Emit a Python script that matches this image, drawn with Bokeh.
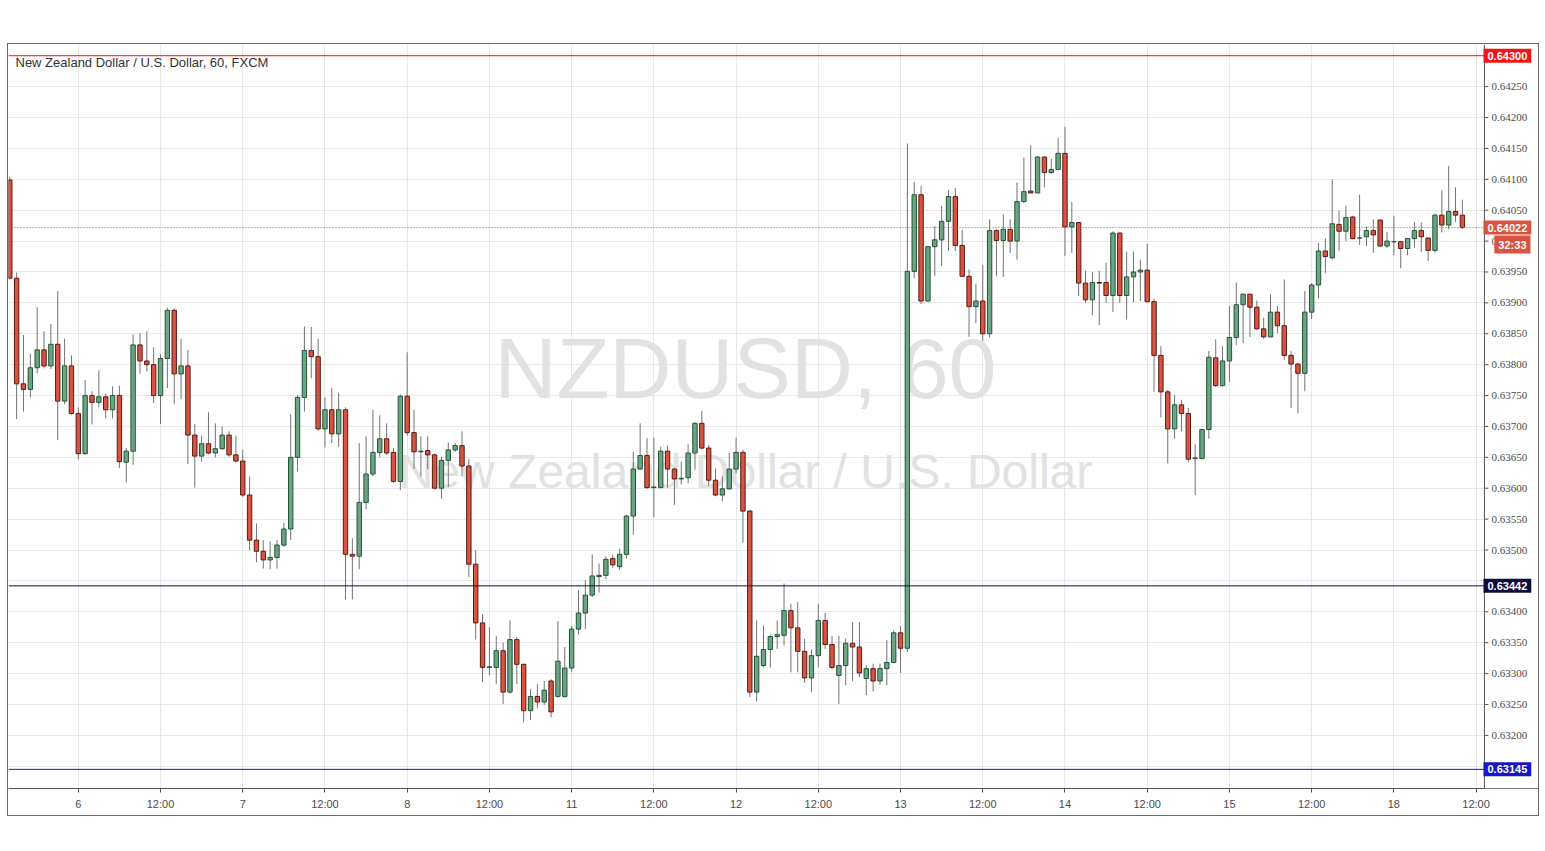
from bokeh.plotting import figure
from bokeh.models import (FixedTicker, Span, Label, LabelSet, Range1d, ColumnDataSource,
                          BoxAnnotation)
from bokeh.embed import file_html
from bokeh.resources import INLINE

# ---------------- data (hourly OHLC, NZDUSD, FXCM) ----------------
opens = [
    0.64099, 0.63940, 0.63769, 0.63760, 0.63795, 0.63824, 0.63798, 0.63833, 0.63741, 0.63798,
    0.63721, 0.63656, 0.63750, 0.63739, 0.63748, 0.63727, 0.63750, 0.63642, 0.63660, 0.63832,
    0.63806, 0.63800, 0.63750, 0.63810, 0.63888, 0.63785, 0.63798, 0.63686, 0.63652, 0.63672,
    0.63657, 0.63664, 0.63686, 0.63654, 0.63644, 0.63589, 0.63516, 0.63498, 0.63484, 0.63488,
    0.63508, 0.63534, 0.63650, 0.63747, 0.63823, 0.63813, 0.63696, 0.63727, 0.63688, 0.63727,
    0.63493, 0.63490, 0.63577, 0.63623, 0.63658, 0.63680, 0.63658, 0.63611, 0.63749, 0.63690,
    0.63659, 0.63661, 0.63654, 0.63600, 0.63645, 0.63662, 0.63669, 0.63636, 0.63477, 0.63382,
    0.63310, 0.63310, 0.63337, 0.63270, 0.63355, 0.63315, 0.63240, 0.63263, 0.63254, 0.63288,
    0.63263, 0.63263, 0.63309, 0.63372, 0.63398, 0.63427, 0.63457, 0.63459, 0.63486, 0.63473,
    0.63493, 0.63555, 0.63631, 0.63653, 0.63601, 0.63601, 0.63660, 0.63631, 0.63615, 0.63617,
    0.63657, 0.63705, 0.63665, 0.63613, 0.63589, 0.63599, 0.63631, 0.63658, 0.63563, 0.63270,
    0.63313, 0.63339, 0.63360, 0.63362, 0.63402, 0.63374, 0.63336, 0.63293, 0.63329, 0.63386,
    0.63347, 0.63297, 0.63313, 0.63349, 0.63343, 0.63292, 0.63308, 0.63288, 0.63308, 0.63318,
    0.63366, 0.63341, 0.63951, 0.64075, 0.63903, 0.63991, 0.64002, 0.64032, 0.64072, 0.63993,
    0.63943, 0.63894, 0.63903, 0.63850, 0.64017, 0.64001, 0.64019, 0.64000, 0.64064, 0.64081,
    0.64078, 0.64136, 0.64111, 0.64116, 0.64142, 0.64023, 0.64030, 0.63932, 0.63905, 0.63933,
    0.63933, 0.63912, 0.64013, 0.63912, 0.63942, 0.63950, 0.63953, 0.63902, 0.63815, 0.63756,
    0.63696, 0.63735, 0.63721, 0.63648, 0.63648, 0.63695, 0.63811, 0.63766, 0.63806, 0.63844,
    0.63897, 0.63914, 0.63893, 0.63858, 0.63845, 0.63885, 0.63863, 0.63815, 0.63801, 0.63786,
    0.63885, 0.63929, 0.63984, 0.63973, 0.64027, 0.64016, 0.64039, 0.64005, 0.64007, 0.64017,
    0.64034, 0.63992, 0.63999, 0.63999, 0.63988, 0.64004, 0.64017, 0.64005, 0.63985, 0.64042,
    0.64026, 0.64048, 0.64042,
]
highs = [
    0.64104, 0.63949, 0.63848, 0.63818, 0.63893, 0.63854, 0.63866, 0.63919, 0.63842, 0.63815,
    0.63731, 0.63775, 0.63757, 0.63791, 0.63753, 0.63765, 0.63766, 0.63665, 0.63849, 0.63851,
    0.63854, 0.63828, 0.63817, 0.63892, 0.63891, 0.63842, 0.63824, 0.63704, 0.63685, 0.63723,
    0.63705, 0.63700, 0.63692, 0.63685, 0.63662, 0.63619, 0.63543, 0.63516, 0.63514, 0.63516,
    0.63544, 0.63720, 0.63751, 0.63862, 0.63861, 0.63842, 0.63747, 0.63762, 0.63754, 0.63731,
    0.63519, 0.63673, 0.63684, 0.63727, 0.63718, 0.63705, 0.63665, 0.63752, 0.63820, 0.63727,
    0.63684, 0.63684, 0.63656, 0.63651, 0.63674, 0.63673, 0.63692, 0.63647, 0.63500, 0.63396,
    0.63375, 0.63361, 0.63350, 0.63386, 0.63359, 0.63316, 0.63275, 0.63283, 0.63288, 0.63291,
    0.63385, 0.63343, 0.63377, 0.63435, 0.63451, 0.63493, 0.63478, 0.63490, 0.63493, 0.63502,
    0.63557, 0.63659, 0.63705, 0.63681, 0.63682, 0.63667, 0.63669, 0.63633, 0.63643, 0.63671,
    0.63707, 0.63725, 0.63670, 0.63632, 0.63619, 0.63657, 0.63682, 0.63662, 0.63565, 0.63386,
    0.63378, 0.63362, 0.63386, 0.63446, 0.63413, 0.63416, 0.63356, 0.63339, 0.63413, 0.63398,
    0.63361, 0.63361, 0.63357, 0.63383, 0.63383, 0.63314, 0.63316, 0.63316, 0.63354, 0.63370,
    0.63377, 0.64158, 0.64096, 0.64089, 0.63992, 0.64024, 0.64057, 0.64083, 0.64086, 0.64018,
    0.63954, 0.63931, 0.63961, 0.64035, 0.64019, 0.64043, 0.64035, 0.64095, 0.64135, 0.64155,
    0.64138, 0.64137, 0.64133, 0.64167, 0.64185, 0.64063, 0.64031, 0.63952, 0.63950, 0.63952,
    0.63965, 0.64016, 0.64014, 0.63983, 0.63983, 0.63970, 0.63996, 0.63907, 0.63830, 0.63759,
    0.63751, 0.63743, 0.63730, 0.63671, 0.63696, 0.63822, 0.63841, 0.63830, 0.63895, 0.63933,
    0.63916, 0.63915, 0.63904, 0.63876, 0.63914, 0.63895, 0.63938, 0.63822, 0.63803, 0.63919,
    0.63932, 0.63997, 0.64005, 0.64100, 0.64049, 0.64057, 0.64041, 0.64075, 0.64024, 0.64035,
    0.64035, 0.64015, 0.64041, 0.64000, 0.64005, 0.64031, 0.64030, 0.64006, 0.64044, 0.64082,
    0.64122, 0.64087, 0.64067,
]
lows = [
    0.63938, 0.63712, 0.63724, 0.63747, 0.63786, 0.63794, 0.63793, 0.63678, 0.63736, 0.63719,
    0.63647, 0.63654, 0.63703, 0.63731, 0.63713, 0.63713, 0.63633, 0.63609, 0.63638, 0.63785,
    0.63789, 0.63738, 0.63704, 0.63762, 0.63736, 0.63744, 0.63639, 0.63601, 0.63643, 0.63655,
    0.63650, 0.63662, 0.63651, 0.63642, 0.63586, 0.63500, 0.63480, 0.63470, 0.63469, 0.63470,
    0.63505, 0.63516, 0.63627, 0.63724, 0.63778, 0.63693, 0.63666, 0.63673, 0.63667, 0.63420,
    0.63420, 0.63469, 0.63566, 0.63619, 0.63650, 0.63654, 0.63609, 0.63597, 0.63685, 0.63631,
    0.63619, 0.63631, 0.63598, 0.63583, 0.63602, 0.63659, 0.63619, 0.63456, 0.63355, 0.63286,
    0.63297, 0.63283, 0.63251, 0.63268, 0.63283, 0.63221, 0.63225, 0.63244, 0.63249, 0.63229,
    0.63261, 0.63261, 0.63302, 0.63363, 0.63372, 0.63424, 0.63431, 0.63453, 0.63471, 0.63468,
    0.63486, 0.63525, 0.63630, 0.63599, 0.63553, 0.63600, 0.63601, 0.63573, 0.63606, 0.63608,
    0.63630, 0.63663, 0.63604, 0.63587, 0.63579, 0.63598, 0.63624, 0.63512, 0.63262, 0.63255,
    0.63310, 0.63310, 0.63340, 0.63346, 0.63302, 0.63302, 0.63285, 0.63270, 0.63310, 0.63340,
    0.63307, 0.63251, 0.63281, 0.63288, 0.63294, 0.63265, 0.63271, 0.63282, 0.63281, 0.63317,
    0.63301, 0.63335, 0.63940, 0.63898, 0.63902, 0.63943, 0.63960, 0.63984, 0.63984, 0.63942,
    0.63845, 0.63867, 0.63838, 0.63844, 0.63943, 0.63942, 0.63981, 0.63970, 0.64062, 0.64077,
    0.64077, 0.64087, 0.64109, 0.64115, 0.63976, 0.63981, 0.63911, 0.63900, 0.63880, 0.63864,
    0.63900, 0.63885, 0.63900, 0.63873, 0.63901, 0.63903, 0.63901, 0.63756, 0.63715, 0.63640,
    0.63680, 0.63692, 0.63642, 0.63589, 0.63647, 0.63680, 0.63764, 0.63765, 0.63772, 0.63831,
    0.63835, 0.63845, 0.63857, 0.63842, 0.63844, 0.63851, 0.63808, 0.63730, 0.63721, 0.63757,
    0.63874, 0.63907, 0.63948, 0.63970, 0.63984, 0.64000, 0.64003, 0.63994, 0.63992, 0.63981,
    0.63991, 0.63989, 0.63977, 0.63956, 0.63977, 0.63989, 0.63982, 0.63968, 0.63981, 0.64014,
    0.64019, 0.64031, 0.64020,
]
closes = [
    0.63940, 0.63769, 0.63760, 0.63795, 0.63824, 0.63798, 0.63833, 0.63741, 0.63798, 0.63721,
    0.63656, 0.63750, 0.63739, 0.63748, 0.63727, 0.63750, 0.63643, 0.63660, 0.63832, 0.63806,
    0.63800, 0.63750, 0.63810, 0.63888, 0.63785, 0.63798, 0.63686, 0.63652, 0.63672, 0.63657,
    0.63664, 0.63686, 0.63654, 0.63644, 0.63589, 0.63516, 0.63498, 0.63484, 0.63488, 0.63508,
    0.63534, 0.63650, 0.63747, 0.63823, 0.63813, 0.63696, 0.63727, 0.63688, 0.63727, 0.63493,
    0.63490, 0.63577, 0.63623, 0.63658, 0.63680, 0.63657, 0.63611, 0.63749, 0.63690, 0.63659,
    0.63660, 0.63654, 0.63600, 0.63645, 0.63662, 0.63669, 0.63636, 0.63477, 0.63382, 0.63310,
    0.63311, 0.63337, 0.63270, 0.63355, 0.63315, 0.63240, 0.63263, 0.63254, 0.63273, 0.63238,
    0.63320, 0.63309, 0.63372, 0.63398, 0.63427, 0.63458, 0.63459, 0.63485, 0.63476, 0.63493,
    0.63555, 0.63631, 0.63653, 0.63601, 0.63602, 0.63660, 0.63631, 0.63615, 0.63616, 0.63657,
    0.63705, 0.63665, 0.63613, 0.63589, 0.63599, 0.63631, 0.63658, 0.63563, 0.63270, 0.63328,
    0.63339, 0.63360, 0.63363, 0.63402, 0.63374, 0.63336, 0.63293, 0.63329, 0.63386, 0.63347,
    0.63310, 0.63313, 0.63349, 0.63343, 0.63301, 0.63308, 0.63288, 0.63308, 0.63318, 0.63366,
    0.63341, 0.63951, 0.64075, 0.63903, 0.63991, 0.64002, 0.64032, 0.64072, 0.63993, 0.63943,
    0.63894, 0.63903, 0.63850, 0.64017, 0.64001, 0.64019, 0.64000, 0.64064, 0.64080, 0.64078,
    0.64136, 0.64111, 0.64116, 0.64142, 0.64023, 0.64030, 0.63932, 0.63905, 0.63933, 0.63932,
    0.63912, 0.64013, 0.63912, 0.63942, 0.63950, 0.63953, 0.63902, 0.63815, 0.63756, 0.63696,
    0.63735, 0.63721, 0.63647, 0.63649, 0.63695, 0.63812, 0.63766, 0.63806, 0.63844, 0.63897,
    0.63914, 0.63893, 0.63858, 0.63845, 0.63885, 0.63863, 0.63815, 0.63801, 0.63786, 0.63885,
    0.63929, 0.63984, 0.63975, 0.64028, 0.64016, 0.64038, 0.64004, 0.64005, 0.64017, 0.64010,
    0.63992, 0.64000, 0.63999, 0.63988, 0.64004, 0.64017, 0.64007, 0.63985, 0.64042, 0.64026,
    0.64048, 0.64042, 0.64022,
]

# x-axis: one bar per hour; labelled bars
tick_bars = [10, 22, 34, 46, 58, 70, 82, 94, 106, 118, 130, 142, 154, 166, 178, 190, 202, 214]
tick_labels = ["6", "12:00", "7", "12:00", "8", "12:00", "11", "12:00", "12", "12:00",
               "13", "12:00", "14", "12:00", "15", "12:00", "18", "12:00"]

# y-axis price ticks (grid) and the ones that carry a visible label
price_ticks = [0.63150, 0.63200, 0.63250, 0.63300, 0.63350, 0.63400, 0.63450, 0.63500,
               0.63550, 0.63600, 0.63650, 0.63700, 0.63750, 0.63800, 0.63850, 0.63900,
               0.63950, 0.64000, 0.64050, 0.64100, 0.64150, 0.64200, 0.64250, 0.64300]
label_ticks = [0.63200, 0.63250, 0.63300, 0.63350, 0.63400, 0.63500, 0.63550, 0.63600,
               0.63650, 0.63700, 0.63750, 0.63800, 0.63850, 0.63900, 0.63950, 0.64000,
               0.64050, 0.64100, 0.64150, 0.64200, 0.64250]
label_texts = ["0.63200", "0.63250", "0.63300", "0.63350", "0.63400", "0.63500", "0.63550",
               "0.63600", "0.63650", "0.63700", "0.63750", "0.63800", "0.63850", "0.63900",
               "0.63950", "0.64000", "0.64050", "0.64100", "0.64150", "0.64200", "0.64250"]

# horizontal levels drawn on the chart
level_values = [0.64300, 0.63442, 0.63145]
level_labels = ["0.64300", "0.63442", "0.63145"]
level_colors = ["#f01616", "#0c0c3c", "#1616c8"]

last_price = 0.64022
last_price_label = "0.64022"
countdown = "32:33"

title_text = "New Zealand Dollar / U.S. Dollar, 60, FXCM"
watermark_big = "NZDUSD, 60"
watermark_small = "New Zealand Dollar / U.S. Dollar"

# ---------------- layout constants ----------------
BAR_PX = 6.843          # pixels per hourly bar
FRAME_W = 1530          # frame incl. price-scale column
FRAME_H = 742
CHART_W = 1474          # candle area width (price scale is to its right)
X0 = -0.186
X1 = X0 + FRAME_W / BAR_PX
CHART_END = X0 + CHART_W / BAR_PX
TICK_END = CHART_END + 4 / BAR_PX

UP_FILL, UP_LINE = "#6ba583", "#225437"
DN_FILL, DN_LINE = "#d75442", "#5b1a13"
WICK = "#737375"
AXIS_TXT = "#4a4a4a"
AXIS_LINE = "#555555"
FONT = "Liberation Sans"

p = figure(width=1532, height=773,
           x_range=Range1d(X0, X1), y_range=Range1d(0.63114, 0.643182),
           y_axis_location=None, output_backend="svg", toolbar_location=None,
           min_border_left=0, min_border_right=0, min_border_top=0, min_border_bottom=29,
           background_fill_color="white", border_fill_color="white",
           outline_line_color=None,
           styles={"margin-top": "43px", "margin-left": "7px", "border": "1px solid #6a6a6a"})

# time axis
p.xaxis.ticker = FixedTicker(ticks=tick_bars)
p.xaxis.major_label_overrides = {t: l for t, l in zip(tick_bars, tick_labels)}
ax = p.xaxis[0]
ax.axis_line_color = AXIS_LINE
ax.major_tick_line_color = AXIS_LINE
ax.major_tick_in = 0
ax.major_tick_out = 4
ax.minor_tick_line_color = None
ax.major_label_text_font = FONT
ax.major_label_text_font_size = "11px"
ax.major_label_text_color = AXIS_TXT
ax.major_label_standoff = 5

p.xgrid.ticker = FixedTicker(ticks=tick_bars)
p.ygrid.ticker = FixedTicker(ticks=price_ticks)
p.xgrid.grid_line_color = "#e8e8e8"
p.ygrid.grid_line_color = "#e8e8e8"

# watermark (under candles)
p.add_layout(Label(x=737, y=421, x_units="screen", y_units="screen", text=watermark_big,
                   text_align="center", text_baseline="middle", text_font=FONT,
                   text_font_size="86px", text_color="#e2e2e2", level="underlay"))
p.add_layout(Label(x=737, y=317, x_units="screen", y_units="screen", text=watermark_small,
                   text_align="center", text_baseline="middle", text_font=FONT,
                   text_font_size="48px", text_color="#e2e2e2", level="underlay"))

# candles
bars = list(range(len(opens)))
up = dict(x=[], top=[], bottom=[], hi=[], lo=[])
dn = dict(x=[], top=[], bottom=[], hi=[], lo=[])
for b, o, h, l, c in zip(bars, opens, highs, lows, closes):
    d = up if c >= o else dn
    d["x"].append(b)
    d["top"].append(max(o, c))
    d["bottom"].append(min(o, c))
    d["hi"].append(h)
    d["lo"].append(l)

for d, fill, line in ((up, UP_FILL, UP_LINE), (dn, DN_FILL, DN_LINE)):
    src = ColumnDataSource(d)
    p.segment(x0="x", y0="hi", x1="x", y1="lo", source=src, line_color=WICK, line_width=1)
    p.vbar(x="x", width=0.64, top="top", bottom="bottom", source=src,
           fill_color=fill, line_color=line, line_width=1)

# horizontal levels
for v, col in zip(level_values, level_colors):
    p.add_layout(Span(location=v, dimension="width", line_color=col, line_width=1))
p.add_layout(Span(location=last_price, dimension="width", line_color="#b5533f",
                  line_width=1, line_dash="1 2"))

# title inside the chart
p.add_layout(Label(x=7, y=FRAME_H - 16, x_units="screen", y_units="screen", text=title_text,
                   text_baseline="middle", text_font=FONT, text_font_size="13px",
                   text_color="#333333"))

# ---------------- price scale column (drawn inside the frame) ----------------
p.add_layout(BoxAnnotation(left=CHART_END, fill_color="white", fill_alpha=1.0,
                           line_color=None, level="annotation"))
p.add_layout(Span(location=CHART_END, dimension="height", line_color=AXIS_LINE,
                  line_width=1, level="overlay"))
tick_src = ColumnDataSource(dict(y=label_ticks, text=label_texts,
                                 x0=[CHART_END] * len(label_ticks),
                                 x1=[TICK_END] * len(label_ticks)))
tick_r = p.segment(x0="x0", y0="y", x1="x1", y1="y", source=tick_src,
                   line_color=AXIS_LINE, line_width=1)
tick_r.level = "overlay"
p.add_layout(LabelSet(x=CHART_W + 9, y="y", text="text", source=tick_src, x_units="screen",
                      text_baseline="middle", text_align="left", text_font=FONT,
                      text_font_size="11px", text_color=AXIS_TXT, level="overlay"))

# price boxes on the right scale
for v, txt, col in zip(level_values, level_labels, level_colors):
    p.add_layout(Label(x=CHART_W + 1, y=v, x_units="screen", y_units="data", text=txt,
                       text_baseline="middle", text_align="left", text_font=FONT,
                       text_font_size="11px", text_font_style="bold", text_color="white",
                       background_fill_color=col, padding=(4, 3), level="overlay"))
p.add_layout(Label(x=CHART_W + 1, y=last_price, x_units="screen", y_units="data",
                   text=last_price_label, text_baseline="middle", text_align="left",
                   text_font=FONT, text_font_size="11px", text_font_style="bold",
                   text_color="white", background_fill_color=DN_FILL, padding=(4, 3),
                   level="overlay"))
p.add_layout(Label(x=CHART_W + 48, y=FRAME_H - 198, x_units="screen", y_units="screen",
                   text=countdown, text_baseline="middle", text_align="right",
                   text_font=FONT, text_font_size="11px", text_font_style="bold",
                   text_color="white", background_fill_color=DN_FILL, padding=(4, 3),
                   level="overlay"))

open("out.html", "w").write(file_html(p, INLINE))
